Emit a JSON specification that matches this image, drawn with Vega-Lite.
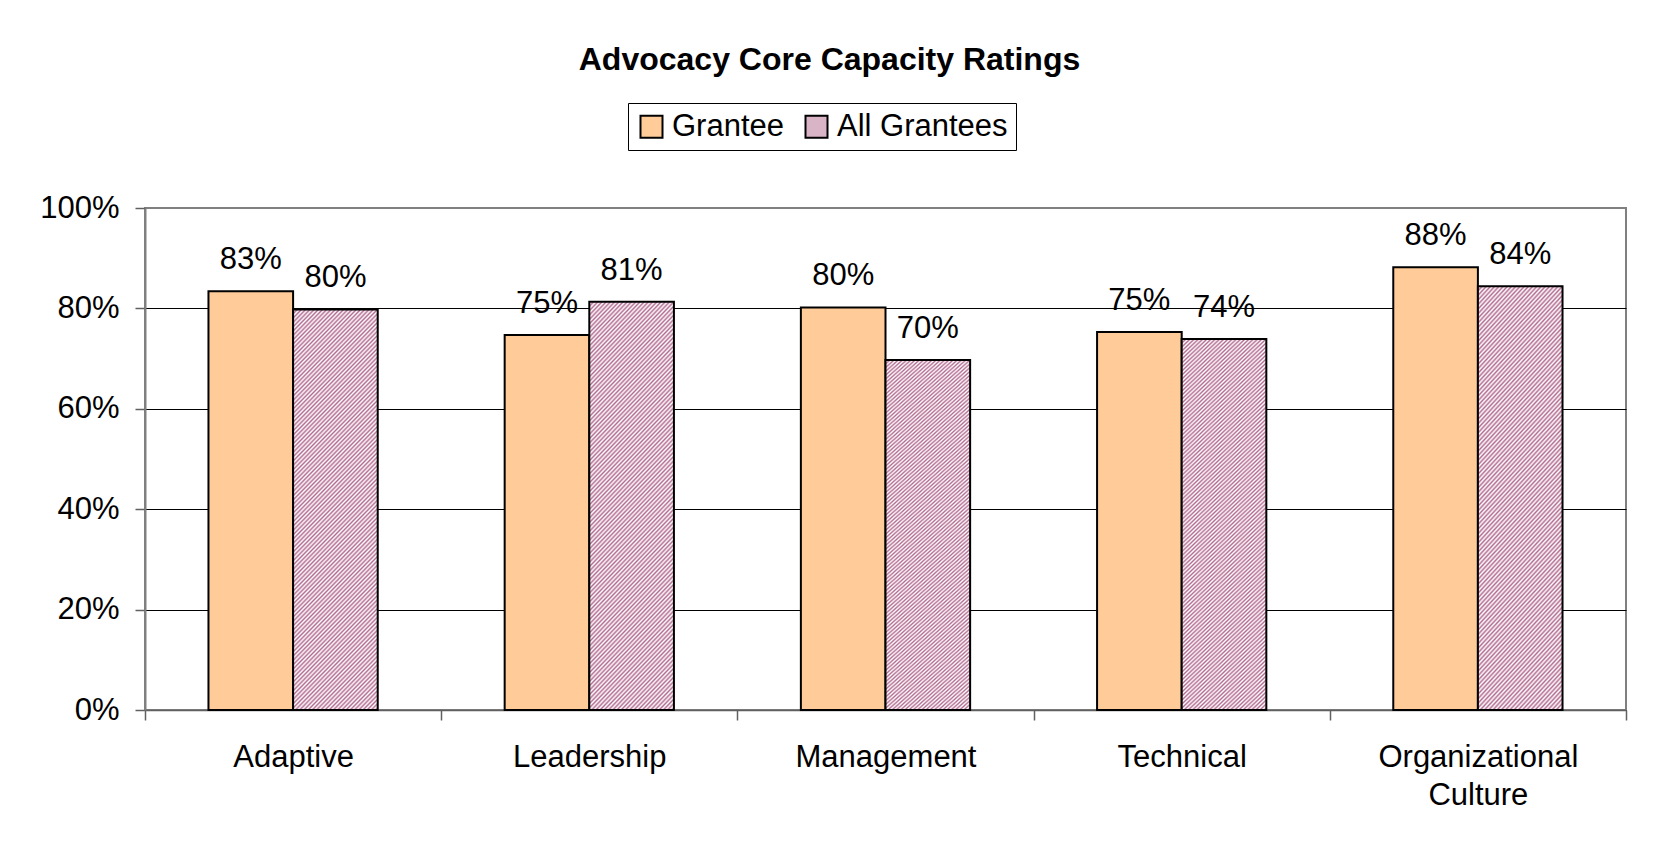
{
  "$schema": "https://vega.github.io/schema/vega-lite/v6.json",
  "width": 1481,
  "height": 502,
  "autosize": {"type": "none"},
  "padding": {"left": 145, "top": 208, "right": 31, "bottom": 144},
  "background": "white",
  "title": {
    "text": "Advocacy Core Capacity Ratings",
    "anchor": "middle",
    "frame": "group",
    "dx": -56,
    "offset": 26,
    "font": "Liberation Sans",
    "fontSize": 32,
    "fontWeight": "bold",
    "color": "black"
  },
  "config": {
    "view": {"stroke": "#808080", "strokeWidth": 2},
    "axis": {"labelFont": "Liberation Sans", "labelColor": "black", "labelFontSize": 31, "labelLimit": 0}
  },
  "data": {
    "values": [
      {"category": "Adaptive", "series": "Grantee", "value": 0.834},
      {"category": "Adaptive", "series": "All Grantees", "value": 0.798},
      {"category": "Leadership", "series": "Grantee", "value": 0.747},
      {"category": "Leadership", "series": "All Grantees", "value": 0.813},
      {"category": "Management", "series": "Grantee", "value": 0.802},
      {"category": "Management", "series": "All Grantees", "value": 0.697},
      {"category": "Technical", "series": "Grantee", "value": 0.753},
      {"category": "Technical", "series": "All Grantees", "value": 0.739},
      {"category": "Organizational Culture", "series": "Grantee", "value": 0.882},
      {"category": "Organizational Culture", "series": "All Grantees", "value": 0.844}
    ]
  },
  "encoding": {
    "x": {
      "field": "category",
      "type": "nominal",
      "sort": ["Adaptive", "Leadership", "Management", "Technical", "Organizational Culture"],
      "scale": {"paddingInner": 0, "paddingOuter": 0},
      "axis": {
        "title": null,
        "labelAngle": 0,
        "tickBand": "extent",
        "tickSize": 10,
        "tickColor": "#606060",
        "tickWidth": 1.5,
        "domainColor": "#606060",
        "domainWidth": 1.5,
        "labelPadding": 22,
        "labelLimit": 0,
        "labelExpr": "split(datum.label, ' ')",
        "labelLineHeight": 38
      }
    },
    "xOffset": {
      "field": "series",
      "type": "nominal",
      "sort": ["Grantee", "All Grantees"],
      "scale": {"paddingInner": 0, "paddingOuter": 0.75}
    },
    "y": {
      "field": "value",
      "type": "quantitative",
      "scale": {"domain": [0, 1]},
      "axis": {
        "title": null,
        "format": ".0%",
        "values": [0, 0.2, 0.4, 0.6, 0.8, 1],
        "grid": true,
        "gridColor": {"condition": {"test": "datum.value === 1", "value": "#808080"}, "value": "black"},
        "gridWidth": 1,
        "domainColor": "#808080",
        "domainWidth": 2,
        "tickColor": "#606060",
        "tickWidth": 1.5,
        "tickSize": 10,
        "labelPadding": 16
      }
    }
  },
  "layer": [
    {
      "mark": {"type": "bar", "stroke": "black", "strokeWidth": 2},
      "encoding": {
        "fill": {
          "condition": {
            "test": "datum.series === 'All Grantees'",
            "value": {
              "gradient": "linear", "x1": 0, "y1": 0, "x2": 0.2802, "y2": 1.2914,
              "stops": [
{"offset":0,"color":"#b36b91"},{"offset":0.004,"color":"#fff"},{"offset":0.008,"color":"#b36b91"},{"offset":0.012,"color":"#fff"},{"offset":0.016,"color":"#b36b91"},{"offset":0.02,"color":"#fff"},{"offset":0.024,"color":"#b36b91"},{"offset":0.028,"color":"#fff"},{"offset":0.032,"color":"#b36b91"},{"offset":0.036,"color":"#fff"},{"offset":0.04,"color":"#b36b91"},{"offset":0.044,"color":"#fff"},{"offset":0.048,"color":"#b36b91"},{"offset":0.052,"color":"#fff"},{"offset":0.056,"color":"#b36b91"},{"offset":0.06,"color":"#fff"},{"offset":0.064,"color":"#b36b91"},{"offset":0.068,"color":"#fff"},{"offset":0.072,"color":"#b36b91"},{"offset":0.076,"color":"#fff"},{"offset":0.08,"color":"#b36b91"},{"offset":0.084,"color":"#fff"},{"offset":0.088,"color":"#b36b91"},{"offset":0.092,"color":"#fff"},{"offset":0.096,"color":"#b36b91"},{"offset":0.1,"color":"#fff"},{"offset":0.104,"color":"#b36b91"},{"offset":0.108,"color":"#fff"},{"offset":0.112,"color":"#b36b91"},{"offset":0.116,"color":"#fff"},{"offset":0.12,"color":"#b36b91"},{"offset":0.124,"color":"#fff"},{"offset":0.128,"color":"#b36b91"},{"offset":0.132,"color":"#fff"},{"offset":0.136,"color":"#b36b91"},{"offset":0.14,"color":"#fff"},{"offset":0.144,"color":"#b36b91"},{"offset":0.148,"color":"#fff"},{"offset":0.152,"color":"#b36b91"},{"offset":0.156,"color":"#fff"},{"offset":0.16,"color":"#b36b91"},{"offset":0.164,"color":"#fff"},{"offset":0.168,"color":"#b36b91"},{"offset":0.172,"color":"#fff"},{"offset":0.176,"color":"#b36b91"},{"offset":0.18,"color":"#fff"},{"offset":0.184,"color":"#b36b91"},{"offset":0.188,"color":"#fff"},{"offset":0.192,"color":"#b36b91"},{"offset":0.196,"color":"#fff"},
{"offset":0.2,"color":"#b36b91"},{"offset":0.204,"color":"#fff"},{"offset":0.208,"color":"#b36b91"},{"offset":0.212,"color":"#fff"},{"offset":0.216,"color":"#b36b91"},{"offset":0.22,"color":"#fff"},{"offset":0.224,"color":"#b36b91"},{"offset":0.228,"color":"#fff"},{"offset":0.232,"color":"#b36b91"},{"offset":0.236,"color":"#fff"},{"offset":0.24,"color":"#b36b91"},{"offset":0.244,"color":"#fff"},{"offset":0.248,"color":"#b36b91"},{"offset":0.252,"color":"#fff"},{"offset":0.256,"color":"#b36b91"},{"offset":0.26,"color":"#fff"},{"offset":0.264,"color":"#b36b91"},{"offset":0.268,"color":"#fff"},{"offset":0.272,"color":"#b36b91"},{"offset":0.276,"color":"#fff"},{"offset":0.28,"color":"#b36b91"},{"offset":0.284,"color":"#fff"},{"offset":0.288,"color":"#b36b91"},{"offset":0.292,"color":"#fff"},{"offset":0.296,"color":"#b36b91"},{"offset":0.3,"color":"#fff"},{"offset":0.304,"color":"#b36b91"},{"offset":0.308,"color":"#fff"},{"offset":0.312,"color":"#b36b91"},{"offset":0.316,"color":"#fff"},{"offset":0.32,"color":"#b36b91"},{"offset":0.324,"color":"#fff"},{"offset":0.328,"color":"#b36b91"},{"offset":0.332,"color":"#fff"},{"offset":0.336,"color":"#b36b91"},{"offset":0.34,"color":"#fff"},{"offset":0.344,"color":"#b36b91"},{"offset":0.348,"color":"#fff"},{"offset":0.352,"color":"#b36b91"},{"offset":0.356,"color":"#fff"},{"offset":0.36,"color":"#b36b91"},{"offset":0.364,"color":"#fff"},{"offset":0.368,"color":"#b36b91"},{"offset":0.372,"color":"#fff"},{"offset":0.376,"color":"#b36b91"},{"offset":0.38,"color":"#fff"},{"offset":0.384,"color":"#b36b91"},{"offset":0.388,"color":"#fff"},{"offset":0.392,"color":"#b36b91"},{"offset":0.396,"color":"#fff"},
{"offset":0.4,"color":"#b36b91"},{"offset":0.404,"color":"#fff"},{"offset":0.408,"color":"#b36b91"},{"offset":0.412,"color":"#fff"},{"offset":0.416,"color":"#b36b91"},{"offset":0.42,"color":"#fff"},{"offset":0.424,"color":"#b36b91"},{"offset":0.428,"color":"#fff"},{"offset":0.432,"color":"#b36b91"},{"offset":0.436,"color":"#fff"},{"offset":0.44,"color":"#b36b91"},{"offset":0.444,"color":"#fff"},{"offset":0.448,"color":"#b36b91"},{"offset":0.452,"color":"#fff"},{"offset":0.456,"color":"#b36b91"},{"offset":0.46,"color":"#fff"},{"offset":0.464,"color":"#b36b91"},{"offset":0.468,"color":"#fff"},{"offset":0.472,"color":"#b36b91"},{"offset":0.476,"color":"#fff"},{"offset":0.48,"color":"#b36b91"},{"offset":0.484,"color":"#fff"},{"offset":0.488,"color":"#b36b91"},{"offset":0.492,"color":"#fff"},{"offset":0.496,"color":"#b36b91"},{"offset":0.5,"color":"#fff"},{"offset":0.504,"color":"#b36b91"},{"offset":0.508,"color":"#fff"},{"offset":0.512,"color":"#b36b91"},{"offset":0.516,"color":"#fff"},{"offset":0.52,"color":"#b36b91"},{"offset":0.524,"color":"#fff"},{"offset":0.528,"color":"#b36b91"},{"offset":0.532,"color":"#fff"},{"offset":0.536,"color":"#b36b91"},{"offset":0.54,"color":"#fff"},{"offset":0.544,"color":"#b36b91"},{"offset":0.548,"color":"#fff"},{"offset":0.552,"color":"#b36b91"},{"offset":0.556,"color":"#fff"},{"offset":0.56,"color":"#b36b91"},{"offset":0.564,"color":"#fff"},{"offset":0.568,"color":"#b36b91"},{"offset":0.572,"color":"#fff"},{"offset":0.576,"color":"#b36b91"},{"offset":0.58,"color":"#fff"},{"offset":0.584,"color":"#b36b91"},{"offset":0.588,"color":"#fff"},{"offset":0.592,"color":"#b36b91"},{"offset":0.596,"color":"#fff"},
{"offset":0.6,"color":"#b36b91"},{"offset":0.604,"color":"#fff"},{"offset":0.608,"color":"#b36b91"},{"offset":0.612,"color":"#fff"},{"offset":0.616,"color":"#b36b91"},{"offset":0.62,"color":"#fff"},{"offset":0.624,"color":"#b36b91"},{"offset":0.628,"color":"#fff"},{"offset":0.632,"color":"#b36b91"},{"offset":0.636,"color":"#fff"},{"offset":0.64,"color":"#b36b91"},{"offset":0.644,"color":"#fff"},{"offset":0.648,"color":"#b36b91"},{"offset":0.652,"color":"#fff"},{"offset":0.656,"color":"#b36b91"},{"offset":0.66,"color":"#fff"},{"offset":0.664,"color":"#b36b91"},{"offset":0.668,"color":"#fff"},{"offset":0.672,"color":"#b36b91"},{"offset":0.676,"color":"#fff"},{"offset":0.68,"color":"#b36b91"},{"offset":0.684,"color":"#fff"},{"offset":0.688,"color":"#b36b91"},{"offset":0.692,"color":"#fff"},{"offset":0.696,"color":"#b36b91"},{"offset":0.7,"color":"#fff"},{"offset":0.704,"color":"#b36b91"},{"offset":0.708,"color":"#fff"},{"offset":0.712,"color":"#b36b91"},{"offset":0.716,"color":"#fff"},{"offset":0.72,"color":"#b36b91"},{"offset":0.724,"color":"#fff"},{"offset":0.728,"color":"#b36b91"},{"offset":0.732,"color":"#fff"},{"offset":0.736,"color":"#b36b91"},{"offset":0.74,"color":"#fff"},{"offset":0.744,"color":"#b36b91"},{"offset":0.748,"color":"#fff"},{"offset":0.752,"color":"#b36b91"},{"offset":0.756,"color":"#fff"},{"offset":0.76,"color":"#b36b91"},{"offset":0.764,"color":"#fff"},{"offset":0.768,"color":"#b36b91"},{"offset":0.772,"color":"#fff"},{"offset":0.776,"color":"#b36b91"},{"offset":0.78,"color":"#fff"},{"offset":0.784,"color":"#b36b91"},{"offset":0.788,"color":"#fff"},{"offset":0.792,"color":"#b36b91"},{"offset":0.796,"color":"#fff"},
{"offset":0.8,"color":"#b36b91"},{"offset":0.804,"color":"#fff"},{"offset":0.808,"color":"#b36b91"},{"offset":0.812,"color":"#fff"},{"offset":0.816,"color":"#b36b91"},{"offset":0.82,"color":"#fff"},{"offset":0.824,"color":"#b36b91"},{"offset":0.828,"color":"#fff"},{"offset":0.832,"color":"#b36b91"},{"offset":0.836,"color":"#fff"},{"offset":0.84,"color":"#b36b91"},{"offset":0.844,"color":"#fff"},{"offset":0.848,"color":"#b36b91"},{"offset":0.852,"color":"#fff"},{"offset":0.856,"color":"#b36b91"},{"offset":0.86,"color":"#fff"},{"offset":0.864,"color":"#b36b91"},{"offset":0.868,"color":"#fff"},{"offset":0.872,"color":"#b36b91"},{"offset":0.876,"color":"#fff"},{"offset":0.88,"color":"#b36b91"},{"offset":0.884,"color":"#fff"},{"offset":0.888,"color":"#b36b91"},{"offset":0.892,"color":"#fff"},{"offset":0.896,"color":"#b36b91"},{"offset":0.9,"color":"#fff"},{"offset":0.904,"color":"#b36b91"},{"offset":0.908,"color":"#fff"},{"offset":0.912,"color":"#b36b91"},{"offset":0.916,"color":"#fff"},{"offset":0.92,"color":"#b36b91"},{"offset":0.924,"color":"#fff"},{"offset":0.928,"color":"#b36b91"},{"offset":0.932,"color":"#fff"},{"offset":0.936,"color":"#b36b91"},{"offset":0.94,"color":"#fff"},{"offset":0.944,"color":"#b36b91"},{"offset":0.948,"color":"#fff"},{"offset":0.952,"color":"#b36b91"},{"offset":0.956,"color":"#fff"},{"offset":0.96,"color":"#b36b91"},{"offset":0.964,"color":"#fff"},{"offset":0.968,"color":"#b36b91"},{"offset":0.972,"color":"#fff"},{"offset":0.976,"color":"#b36b91"},{"offset":0.98,"color":"#fff"},{"offset":0.984,"color":"#b36b91"},{"offset":0.988,"color":"#fff"},{"offset":0.992,"color":"#b36b91"},{"offset":0.996,"color":"#fff"},
{"offset":1,"color":"#b36b91"}
              ]
            }
          },
          "field": "series",
          "type": "nominal",
          "scale": {"domain": ["Grantee", "All Grantees"], "range": ["#ffcc99", "#d9b3c6"]},
          "legend": {
            "orient": "none",
            "legendX": 483,
            "legendY": -105,
            "direction": "horizontal",
            "title": null,
            "strokeColor": "black",
            "padding": 8,
            "labelFont": "Liberation Sans",
            "labelFontSize": 31,
            "labelColor": "black",
            "labelLimit": 0,
            "labelOffset": 5,
            "columnPadding": 16,
            "symbolType": "square",
            "symbolSize": 484,
            "symbolStrokeColor": "black",
            "symbolStrokeWidth": 2,
            "encode": {
              "symbols": {
                "update": {
                  "fill": {
                    "condition": {
                      "test": "datum.value === 'All Grantees'",
                      "value": {
                        "gradient": "linear", "x1": 0, "y1": 0, "x2": 1, "y2": 1,
                        "stops": [
                          {"offset": 0, "color": "#b36b91"}, {"offset": 0.1, "color": "#fff"},
                          {"offset": 0.2, "color": "#b36b91"}, {"offset": 0.3, "color": "#fff"},
                          {"offset": 0.4, "color": "#b36b91"}, {"offset": 0.5, "color": "#fff"},
                          {"offset": 0.6, "color": "#b36b91"}, {"offset": 0.7, "color": "#fff"},
                          {"offset": 0.8, "color": "#b36b91"}, {"offset": 0.9, "color": "#fff"},
                          {"offset": 1, "color": "#b36b91"}
                        ]
                      }
                    },
                    "value": "#ffcc99"
                  },
                  "stroke": {"value": "black"},
                  "strokeWidth": {"value": 2}
                }
              }
            }
          }
        }
      }
    },
    {
      "mark": {"type": "text", "baseline": "alphabetic", "dy": -22, "fontSize": 31, "font": "Liberation Sans", "color": "black"},
      "encoding": {
        "text": {"field": "value", "type": "quantitative", "format": ".0%"}
      }
    }
  ]
}
